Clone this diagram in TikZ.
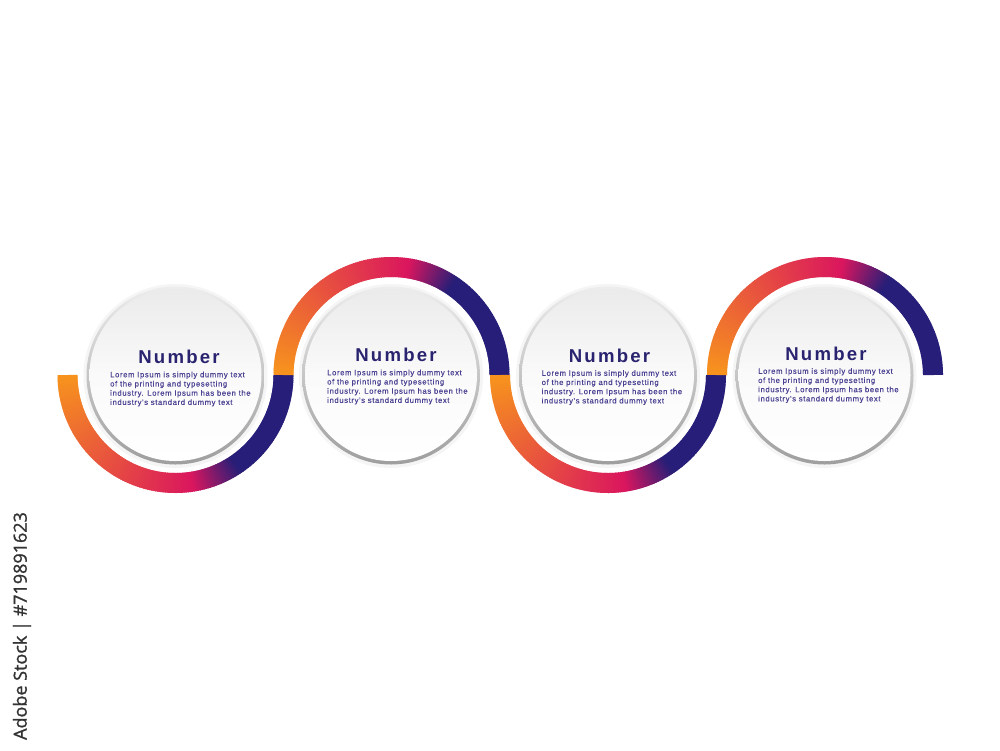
\documentclass[tikz,border=0pt]{standalone}
\usepackage{fontspec}
\setmainfont{Liberation Sans}
\newfontfamily\titlefont[LetterSpace=12]{Liberation Sans}
\newfontfamily\bodyfont[LetterSpace=8,FakeBold=0.3]{Liberation Sans}
\newfontfamily\wmfont[FakeBold=1.2]{Open Sans}
\definecolor{orng}{HTML}{F7941D}
\definecolor{magn}{HTML}{DA165E}
\definecolor{navy}{HTML}{261E78}
\definecolor{ttl}{HTML}{2A2470}
\definecolor{bdy}{HTML}{4A4192}
\newcommand\gradarc[3]{%
 \foreach \i in {0,...,179}{%
  \pgfmathsetmacro\gT{(\i+0.5)/180}%
  \ifdim \gT pt < 0.55pt
    \pgfmathsetmacro\pc{100*(1-\gT/0.55)}%
    \edef\col{orng!\pc!magn}%
  \else\ifdim \gT pt < 0.69pt
    \pgfmathsetmacro\pc{100*(1-(\gT-0.55)/0.14)}%
    \edef\col{magn!\pc!navy}%
  \else
    \edef\col{navy}%
  \fi\fi
  \pgfmathsetmacro\sa{180+#3*\i}%
  \pgfmathsetmacro\ea{180+#3*min(\i+1.5,180)}%
  \draw[line width=20, color=\col] (#1,#2) ++(\sa:108) arc[start angle=\sa, end angle=\ea, radius=108];
 }}
\begin{document}
\begin{tikzpicture}[x=1pt,y=-1pt,
  ring/.style={circle, minimum size=178, inner sep=0, top color=black!7, bottom color=black!38},
  disc/.style={circle, minimum size=172, inner sep=0, top color=black!8, bottom color=white, middle color=white!98!black},
  halo/.style={circle, minimum size=184, inner sep=0, fill=black!4},
  ttlnode/.style={font=\titlefont\bfseries\fontsize{18.6}{20}\selectfont, text=ttl, inner sep=0},
  bdynode/.style={font=\bodyfont\fontsize{7.7}{9.2}\selectfont, text=bdy, inner sep=0, align=left, anchor=north west},
  wm/.style={font=\wmfont\fontsize{18}{20}\selectfont, text=black!80, rotate=90, inner sep=0}]
\useasboundingbox (0,0) rectangle (1000,750);
\fill[white] (0,0) rectangle (1000,750);
% gradient bands
\gradarc{175.5}{375}{-1}
\gradarc{391.5}{375}{1}
\gradarc{608}{375}{-1}
\gradarc{825}{375}{1}
% circles
\foreach \n/\cx in {1/175.5,2/391,3/608,4/824.5}{
  \node[halo] (h\n) at (\cx,376) {};
  \node[ring] (r\n) at (\cx,375.5) {};
  \node[disc] (c\n) at (\cx,375) {};
}
% texts
\node[ttlnode] (t1) at (179,356.5) {Number};
\node[bdynode] (b1) at (110,371.5) {Lorem Ipsum is simply dummy text\\of the printing and typesetting\\industry. Lorem Ipsum has been the\\industry's standard dummy text};
\node[ttlnode] (t2) at (396,355) {Number};
\node[bdynode] (b2) at (327,369.5) {Lorem Ipsum is simply dummy text\\of the printing and typesetting\\industry. Lorem Ipsum has been the\\industry's standard dummy text};
\node[ttlnode] (t3) at (609.5,355.5) {Number};
\node[bdynode] (b3) at (541.5,370) {Lorem Ipsum is simply dummy text\\of the printing and typesetting\\industry. Lorem Ipsum has been the\\industry's standard dummy text};
\node[ttlnode] (t4) at (826,353.5) {Number};
\node[bdynode] (b4) at (758,368) {Lorem Ipsum is simply dummy text\\of the printing and typesetting\\industry. Lorem Ipsum has been the\\industry's standard dummy text};
% watermark label
\node[wm] (wmk) at (22,626) {Adobe Stock | \#719891623};
\end{tikzpicture}
\end{document}
